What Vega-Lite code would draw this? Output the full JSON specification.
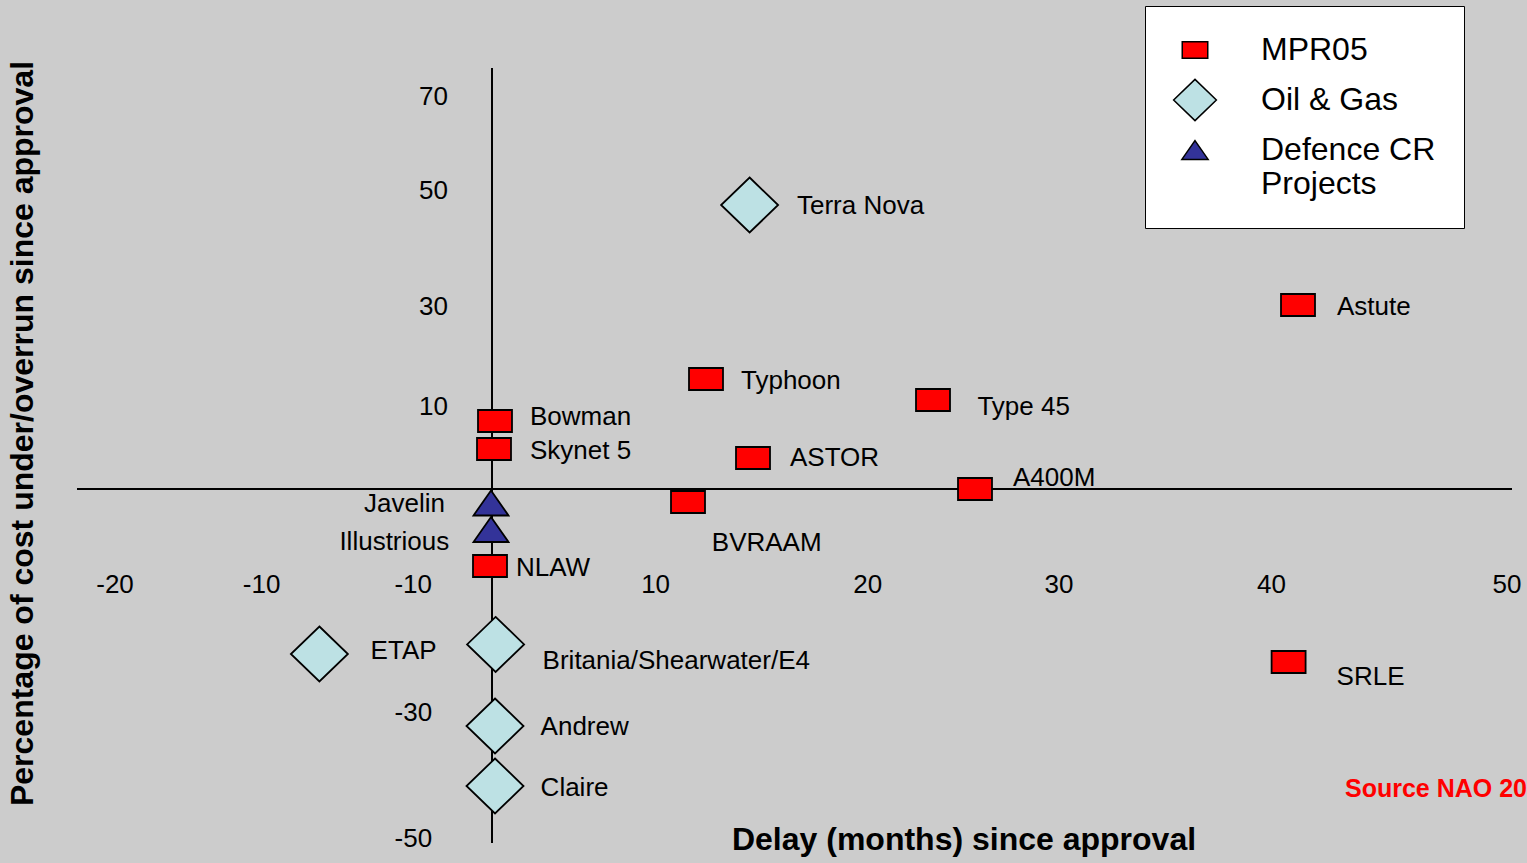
{
  "$schema": "https://vega.github.io/schema/vega-lite/v6.json",
  "width": 1527,
  "height": 863,
  "autosize": {"type": "fit", "contains": "padding"},
  "padding": 0,
  "background": "#cccccc",
  "config": {"view": {"stroke": null}, "font": "Liberation Sans"},
  "datasets": {
    "projects": [
      {"project": "Astute", "series": "MPR05", "delay": 40.3, "cost": 30.67, "lx": 42.25, "ly": 28.95},
      {"project": "Typhoon", "series": "MPR05", "delay": 10.7, "cost": 18.33, "lx": 12.45, "ly": 16.62},
      {"project": "Type 45", "series": "MPR05", "delay": 22.05, "cost": 14.83, "lx": 24.27, "ly": 12.33},
      {"project": "Bowman", "series": "MPR05", "delay": 0.15, "cost": 11.33, "lx": 1.9, "ly": 10.67},
      {"project": "Skynet 5", "series": "MPR05", "delay": 0.1, "cost": 6.67, "lx": 1.9, "ly": 4.95},
      {"project": "ASTOR", "series": "MPR05", "delay": 13.05, "cost": 5.17, "lx": 14.9, "ly": 3.88},
      {"project": "A400M", "series": "MPR05", "delay": 24.15, "cost": 0.0, "lx": 26.05, "ly": 0.5},
      {"project": "BVRAAM", "series": "MPR05", "delay": 9.8, "cost": -2.17, "lx": 10.99, "ly": -10.28},
      {"project": "NLAW", "series": "MPR05", "delay": -0.1, "cost": -12.83, "lx": 1.2, "ly": -14.44},
      {"project": "SRLE", "series": "MPR05", "delay": 39.83, "cost": -28.83, "lx": 42.23, "ly": -32.67},
      {"project": "Terra Nova", "series": "Oil & Gas", "delay": 12.88, "cost": 47.33, "lx": 15.25, "ly": 45.83},
      {"project": "ETAP", "series": "Oil & Gas", "delay": -8.63, "cost": -27.5, "lx": -6.07, "ly": -28.33},
      {"project": "Britania/Shearwater/E4", "series": "Oil & Gas", "delay": 0.18, "cost": -25.9, "lx": 2.53, "ly": -30.0},
      {"project": "Andrew", "series": "Oil & Gas", "delay": 0.15, "cost": -39.5, "lx": 2.43, "ly": -41.0},
      {"project": "Claire", "series": "Oil & Gas", "delay": 0.15, "cost": -49.5, "lx": 2.43, "ly": -51.17},
      {"project": "Javelin", "series": "Defence CR Projects", "delay": -0.05, "cost": -2.33, "lx": -6.4, "ly": -3.78},
      {"project": "Illustrious", "series": "Defence CR Projects", "delay": -0.05, "cost": -6.75, "lx": -7.63, "ly": -10.17}
    ],
    "ticks": [
      {"label": "-20", "tx": -18.85, "ty": -17.33},
      {"label": "-10", "tx": -11.52, "ty": -17.33},
      {"label": "-10", "tx": -3.94, "ty": -17.33},
      {"label": "10", "tx": 8.18, "ty": -17.33},
      {"label": "20", "tx": 18.79, "ty": -17.33},
      {"label": "30", "tx": 28.35, "ty": -17.33},
      {"label": "40", "tx": 38.97, "ty": -17.33},
      {"label": "50", "tx": 50.75, "ty": -17.33},
      {"label": "70", "tx": -2.93, "ty": 63.95},
      {"label": "50", "tx": -2.93, "ty": 48.28},
      {"label": "30", "tx": -2.93, "ty": 28.95},
      {"label": "10", "tx": -2.93, "ty": 12.33},
      {"label": "-30", "tx": -3.93, "ty": -38.62},
      {"label": "-50", "tx": -3.93, "ty": -59.62}
    ]
  },
  "layer": [
    {
      "data": {"values": [{}]},
      "mark": {"type": "rule", "color": "black", "strokeWidth": 2},
      "encoding": {
        "x": {"datum": -20.75, "type": "quantitative", "scale": {"domain": [-24.6, 51.75], "nice": false, "zero": false}, "axis": null},
        "x2": {"datum": 51.0},
        "y": {"datum": 0, "type": "quantitative", "scale": {"domain": [-62.3333, 81.5], "nice": false, "zero": false}, "axis": null}
      }
    },
    {
      "data": {"values": [{}]},
      "mark": {"type": "rule", "color": "black", "strokeWidth": 2},
      "encoding": {
        "x": {"datum": 0, "type": "quantitative"},
        "y": {"datum": 70.17, "type": "quantitative"},
        "y2": {"datum": -59.0}
      }
    },
    {
      "data": {"name": "projects"},
      "mark": {"type": "point", "filled": true, "opacity": 1, "size": 1600, "stroke": "black", "strokeWidth": 1.8},
      "encoding": {
        "x": {"field": "delay", "type": "quantitative"},
        "y": {"field": "cost", "type": "quantitative"},
        "color": {
          "field": "series",
          "type": "nominal",
          "scale": {"domain": ["MPR05", "Oil & Gas", "Defence CR Projects"], "range": ["#ff0000", "#bde1e4", "#333399"]},
          "legend": {
            "title": null,
            "orient": "none",
            "legendX": 1145,
            "legendY": 6,
            "fillColor": "white",
            "strokeColor": "black",
            "padding": 28,
            "symbolSize": 900,
            "symbolOffset": 6,
            "symbolStrokeColor": "black",
            "symbolStrokeWidth": 1.5,
            "labelFont": "Liberation Sans",
            "labelFontSize": 32,
            "labelColor": "black",
            "labelOffset": 50,
            "labelLimit": 400,
            "rowPadding": 10,
            "labelExpr": "datum.label == 'Defence CR Projects' ? ['Defence CR', 'Projects'] : datum.label"
          }
        },
        "shape": {
          "field": "series",
          "type": "nominal",
          "scale": {
            "domain": ["MPR05", "Oil & Gas", "Defence CR Projects"],
            "range": ["M-0.85,-0.55H0.85V0.55H-0.85Z", "M0,-1.375L1.425,0L0,1.375L-1.425,0Z", "M0,-0.625L0.875,0.625L-0.875,0.625Z"]
          }
        }
      }
    },
    {
      "data": {"name": "projects"},
      "mark": {"type": "text", "align": "left", "baseline": "alphabetic", "fontSize": 26, "font": "Liberation Sans", "color": "black"},
      "encoding": {
        "x": {"field": "lx", "type": "quantitative"},
        "y": {"field": "ly", "type": "quantitative"},
        "text": {"field": "project"}
      }
    },
    {
      "data": {"name": "ticks"},
      "mark": {"type": "text", "align": "center", "baseline": "alphabetic", "fontSize": 26, "font": "Liberation Sans", "color": "black"},
      "encoding": {
        "x": {"field": "tx", "type": "quantitative"},
        "y": {"field": "ty", "type": "quantitative"},
        "text": {"field": "label"}
      }
    },
    {
      "data": {"values": [{}]},
      "mark": {"type": "text", "align": "center", "baseline": "alphabetic", "fontSize": 32, "fontWeight": "bold", "font": "Liberation Sans", "color": "black"},
      "encoding": {
        "x": {"datum": 23.6, "type": "quantitative"},
        "y": {"datum": -60.22, "type": "quantitative"},
        "text": {"value": "Delay (months) since approval"}
      }
    },
    {
      "data": {"values": [{}]},
      "mark": {"type": "text", "align": "center", "baseline": "alphabetic", "angle": 270, "fontSize": 32, "fontWeight": "bold", "font": "Liberation Sans", "color": "black"},
      "encoding": {
        "x": {"datum": -22.95, "type": "quantitative"},
        "y": {"datum": 9.25, "type": "quantitative"},
        "text": {"value": "Percentage of cost under/overrun since approval"}
      }
    },
    {
      "data": {"values": [{}]},
      "mark": {"type": "text", "align": "left", "baseline": "alphabetic", "fontSize": 25, "fontWeight": "bold", "font": "Liberation Sans", "color": "#ff0000", "clip": true},
      "encoding": {
        "x": {"datum": 42.65, "type": "quantitative"},
        "y": {"datum": -51.33, "type": "quantitative"},
        "text": {"value": "Source NAO 2005"}
      }
    }
  ]
}
